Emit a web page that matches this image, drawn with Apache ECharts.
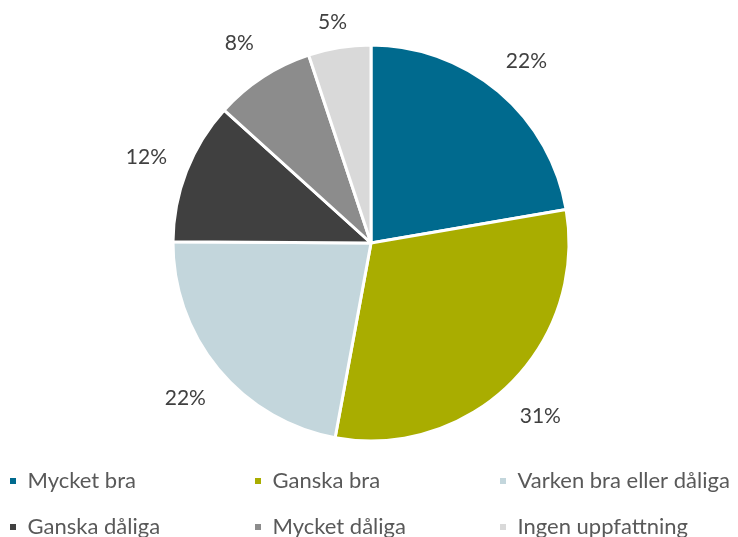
<!DOCTYPE html>
<html>
<head>
<meta charset="utf-8">
<script src="https://cdn.jsdelivr.net/npm/echarts@6/dist/echarts.min.js"></script>
<style>
  html, body { margin: 0; padding: 0; background: #fff; }
  #chart { width: 738px; height: 537px; }
</style>
</head>
<body>
<div id="chart"></div>
<script>
const categories = ['Mycket bra', 'Ganska bra', 'Varken bra eller dåliga', 'Ganska dåliga', 'Mycket dåliga', 'Ingen uppfattning']
const values = [22.3, 30.6, 22.2, 11.6, 8.2, 5.1]
const colors = ['#006A8E', '#A9AD00', '#C3D6DC', '#404040', '#8C8C8C', '#D9D9D9']

const font = 'Lato'
const pieData = categories.map((name, i) => ({ name, value: values[i], itemStyle: { color: colors[i] } }))

const chart = echarts.init(document.getElementById('chart'))
const option = {
  animation: false,
  color: colors,
  legend: {
    left: 8,
    right: 0,
    top: 463,
    padding: 0,
    orient: 'horizontal',
    itemGap: 10,
    itemWidth: 19,
    itemHeight: 8,
    icon: 'path://M0,0h10v10h-10z',
    data: categories,
    textStyle: { fontFamily: font, fontSize: 22, color: '#595959', width: 215.5, lineHeight: 36 },
  },
  series: [
    {
      type: 'pie',
      center: [371, 243],
      radius: 198,
      startAngle: 90,
      clockwise: true,
      data: pieData,
      itemStyle: { borderColor: '#fff', borderWidth: 3 },
      label: { show: false },
      labelLine: { show: false },
      emphasis: { disabled: true },
    },
    // ring used only to place the percent labels outside the pie
    {
      type: 'pie',
      center: [371, 245],
      radius: [198, 278],
      startAngle: 90,
      clockwise: true,
      silent: true,
      data: categories.map((name, i) => ({ name, value: values[i] })),
      itemStyle: { color: 'rgba(0,0,0,0)' },
      label: {
        show: true,
        position: 'inside',
        formatter: (p) => Math.round(p.value) + '%',
        fontFamily: font,
        fontSize: 21,
        color: '#404040',
      },
      // keep labels from running off the top edge
      labelLayout: (p) => ({ dy: Math.max(0, 12 - p.labelRect.y) }),
      labelLine: { show: false },
      emphasis: { disabled: true },
    },
  ],
}
chart.setOption(option)
</script>
</body>
</html>
